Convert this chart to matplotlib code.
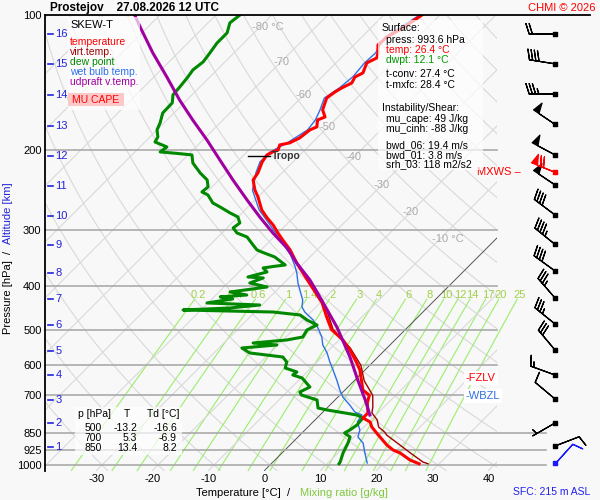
"""Skew-T log-p sounding chart, Prostejov 27.08.2026 12 UTC."""

import numpy as np
import matplotlib

matplotlib.use("Agg")
import matplotlib.pyplot as plt
from matplotlib import transforms
from matplotlib.patches import Rectangle

plt.rcParams["font.family"] = ["Liberation Sans", "DejaVu Sans"]

# ---------------------------------------------------------------- data
TEMP_P = [100, 106.8, 111.9, 116.6, 121.4, 124.6, 127.8, 134.5, 137.3, 141.6,
          145.2, 148.3, 152.9, 162.5, 168.5, 171.1, 177.3, 180.0, 187.6, 192.4,
          194.4, 199.4, 201.5, 204.6, 212.1, 224.4, 232.6, 244.8, 253.7, 271.2,
          282.5, 292.8, 305.1, 316.2, 332.7, 355.7, 374.3, 402.1, 436.5, 468.9,
          500, 527.4, 555.1, 593.4, 615, 681.3, 700, 728, 766, 786, 802.4,
          823.3, 850, 902.7, 926.1, 940.4, 974.7, 993.6]
TEMP_T = [-53.2, -54.3, -55.5, -55.7, -54.3, -53.6, -54.5, -53.4, -54.1, -53.6,
          -54.5, -55.0, -55.4, -54.0, -52.3, -53.1, -52.0, -52.7, -53.1, -54.0,
          -55.4, -54.8, -55.4, -55.9, -55.5, -54.3, -53.9, -51.8, -50.0, -47.0,
          -44.6, -42.3, -40.0, -37.9, -34.8, -31.3, -28.4, -24.3, -19.6, -16.3,
          -13.2, -9.3, -6.25, -2.7, -0.9, 3.2, 5.3, 6.3, 8.2, 8.2, 10.2,
          11.4, 13.4, 17.3, 19.3, 21.1, 24.1, 26.4]

VIRT_P = [400, 450, 500, 550, 600, 650, 700, 743, 766, 794, 823, 845, 858,
          893.5, 940, 985, 993.6]
VIRT_T = [-24.1, -17.8, -12.9, -6.5, -1.6, 1.8, 5.9, 8.0, 8.9, 11.1, 12.6, 14.6,
          15.5, 18.8, 22.9, 26.8, 28.0]

DEW_P = [100, 104.1, 109.6, 115.4, 121.4, 127.1, 132.4, 138.0, 144.5, 150.5,
         156.8, 165.1, 173.7, 180.0, 186.6, 191.5, 196.4, 201.5, 203, 204.6,
         213.2, 224.4, 232.6, 241.0, 247.3, 251.1, 261.6, 267.0, 275.4, 281.1,
         289.8, 297.3, 305.1, 311.4, 324.4, 332.8, 336.8, 344.9, 359.3, 362,
         364.9, 372.4, 382.1, 384, 394.0, 402.2, 412.6, 419.0, 423, 427.6,
         436.4, 441.0, 447.8, 452.4, 457.1, 464.1, 476.1, 488.5, 501.1, 519.4,
         527.4, 535.6, 541.1, 549.5, 563.7, 575.4, 590.3, 608.7, 621.3, 630.9,
         640.7, 670.9, 688.3, 698.9, 717.0, 747.0, 754.7, 774.2, 786.2, 814.9,
         836.0, 848.9, 866.5, 893.5, 940.4, 984.8, 993.6]
DEW_T = [-85.7, -86.1, -84.8, -84.8, -84.3, -83.9, -84.3, -83.9, -83.6, -83.4,
         -82.1, -82.0, -80.7, -80.0, -78.6, -78.2, -75.2, -75.5, -72.3, -69.3,
         -67.7, -64.6, -62.1, -60.7, -60.9, -59.3, -57.0, -55.0, -52.1, -50.0,
         -48.6, -48.9, -47.3, -44.8, -42.3, -40.7, -39.3, -36.3, -33.0, -34.8,
         -36.4, -35.0, -37.5, -34.6, -36.1, -32.3, -38.0, -34.5, -38.9, -36.3,
         -40.2, -30.4, -35.2, -43.2, -26.8, -21.4, -19.3, -16.6, -17.5, -17.0,
         -19.3, -24.8, -20.2, -25.9, -23.6, -17.0, -15.4, -14.6, -11.8, -12.0,
         -9.8, -6.8, -7.7, -6.9, -3.2, -1.6, 0.4, 6.6, 8.2, 8.4,
         8.0, 7.6, 9.3, 10.0, 10.9, 12.0, 12.1]

WETBULB_P = [100, 112, 121.4, 128, 137, 145, 153, 163, 171, 180, 192, 201.5,
             212, 224, 245, 271, 293, 316, 340, 362.6, 374.3, 394, 408.5, 430,
             445.5, 457.1, 476.1, 494, 519.4, 541.1, 563.7, 590.3, 615, 648,
             681.5, 706.5, 736.4, 762.6, 774.2, 802, 836, 866.5, 893.5, 940.4,
             989.8]
WETBULB_T = [-53.6, -55.9, -54.7, -54.9, -54.5, -54.9, -55.8, -54.4, -53.5,
             -53.1, -54.4, -55.8, -55.9, -54.7, -52.2, -47.5, -42.8, -38.4,
             -34.0, -30.9, -29.5, -27.5, -25.9, -23.6, -22.5, -21.1, -18.2,
             -16.1, -13.6, -12.0, -9.8, -7.7, -5.7, -3.2, -0.9, 0.9, 3.6, 5.7,
             7.5, 7.9, 9.8, 10.7, 12.7, 14.8, 17.0]

PARCEL_P = [100, 106.3, 121.4, 137.3, 154.5, 171.1, 189.5, 210.0, 232.6, 257.7,
            281.1, 305.1, 329.4, 355.7, 388.0, 423.2, 493.5, 575.4, 647.3,
            717.0, 774.2]
PARCEL_T = [-104.5, -101.4, -94.5, -87.7, -81.3, -75.4, -69.3, -63.4, -57.5,
            -51.4, -46.1, -40.9, -35.7, -31.3, -25.9, -21.1, -12.7, -5.0, 0.5,
            5.4, 8.9]

# wind profile (direction from, speed)
WIND_P = [110.2, 128.4, 149.8, 175, 204.6, 238.6, 278.2, 323.4, 370.5, 425.4,
          486.0, 555.1, 630.9, 713.3, 806.6, 907.4]
WIND_DIR = [270, 279, 270, 304, 298, 304, 307, 309, 306, 319, 309, 320, 290,
            310, 240, 69]
WIND_SPD = [20, 40, 35, 50, 50, 50, 40, 45, 40, 35, 35, 30, 15, 10, 3, 10]
MXWS_P, MXWS_DIR, MXWS_SPD = 223, 292, 70
SFC_WIND_P, SFC_WIND_DIR, SFC_WIND_SPD = 989.8, 42, 10

# altitude scale [km] and its pressure
KM_LEVELS = [1, 2, 3, 4, 5, 6, 7, 8, 9, 10, 11, 12, 13, 14, 15, 16]
KM_PRESSURE = [912.0, 806.6, 717.0, 630.9, 558.0, 488.5, 427.6, 374.3, 324.4,
               279.6, 239.8, 205.7, 176.4, 150.5, 128.4, 110.2]

TROPO_P = 206
FZLV_P = 641
WBZL_P = 703

PRESSURE_LEVELS = [100, 200, 300, 400, 500, 600, 700, 850, 925, 1000]
TEMP_TICKS = [-30, -20, -10, 0, 10, 20, 30, 40]
MIX_RATIOS = [0.2, 0.4, 0.6, 1, 1.4, 2, 3, 4, 6, 8, 10, 12, 14, 17, 20, 25]

TABLE_P = [500, 700, 850]
TABLE_T = [-13.2, 5.3, 13.4]
TABLE_TD = [-16.6, -6.9, 8.2]

SURFACE_INFO = [("press: 993.6 hPa", "black"), ("temp: 26.4 \u00b0C", "#ff0000"),
                ("dwpt: 12.1 \u00b0C", "#009900")]
CONV_INFO = ["t-conv: 27.4 \u00b0C", "t-mxfc: 28.4 \u00b0C"]
INSTAB_INFO = ["mu_cape: 49 J/kg", "mu_cinh: -88 J/kg"]
SHEAR_INFO = ["bwd_06: 19.4 m/s", "bwd_01: 3.8 m/s", "srh_03: 118 m2/s2"]

# ---------------------------------------------------------------- geometry
SKEW = 34.89
P_BOTTOM, P_TOP = 1028.5, 100.0
X_LEFT, X_RIGHT = -40.18, 40.54
BG = "#f8f8f8"
RED, DARKRED, GREEN, BLUE, PURPLE = "#ff0000", "#a00000", "#008800", "#2f6fe8", "#a000a0"
KM_BLUE = "#2222dd"


def skew_x(t, p):
    return np.asarray(t, dtype=float) + SKEW * np.log(1000.0 / np.asarray(p, dtype=float))


def mixing_td(w, p):
    e = w * p / (622.0 + w)
    a = np.log(e / 6.112)
    return 243.5 * a / (17.67 - a)


fig = plt.figure(figsize=(6, 5), dpi=100, facecolor=BG)
ax_rect = [45 / 600, 29.5 / 500, 452 / 600, 455.5 / 500]
ax = fig.add_axes(ax_rect, facecolor=BG)
ax.set_yscale("log")
ax.set_ylim(P_BOTTOM, P_TOP)
ax.set_xlim(X_LEFT, X_RIGHT)
ax.yaxis.set_minor_locator(matplotlib.ticker.NullLocator())
ax.set_yticks(PRESSURE_LEVELS)
ax.set_yticklabels([str(p) for p in PRESSURE_LEVELS])
ax.set_xticks(skew_x(TEMP_TICKS, [P_BOTTOM] * len(TEMP_TICKS)))
ax.set_xticklabels([str(t) for t in TEMP_TICKS])
ax.tick_params(length=0, labelsize=8, pad=2.5)
for side in ("top", "right", "bottom"):
    ax.spines[side].set_visible(False)
ax.spines["left"].set_linewidth(1.3)

# background: dry adiabats, isotherms, mixing ratio lines
pp = np.geomspace(P_BOTTOM, P_TOP, 80)
for theta in range(-30, 260, 10):
    t = (theta + 273.15) * (pp / 1000.0) ** 0.2857 - 273.15
    ax.plot(skew_x(t, pp), pp, color="#d9d9d9", lw=0.8, zorder=1)
for t in range(-140, 50, 10):
    col, lw = ("#555555", 0.7) if t == 0 else ("#d9d9d9", 0.8)
    ax.plot(skew_x([t, t], [P_BOTTOM, P_TOP]), [P_BOTTOM, P_TOP], color=col, lw=lw, zorder=1.5)

pm = np.geomspace(P_BOTTOM, 428, 40)
for w in MIX_RATIOS:
    ax.plot(skew_x(mixing_td(w, pm), pm), pm, color="#9aee6a", lw=0.8, zorder=1.2,
            clip_on=False)
    ax.text(skew_x(mixing_td(w, 419), 419), 419, f"{w:g}", color="#a0d048",
            fontsize=8, ha="center", va="center", zorder=1.3)

iso_labels = [(-80, 106.3), (-70, 127.1), (-60, 150.5), (-50, 177.3),
              (-40, 207.0), (-30, 238.6), (-20, 274.0), (-10, 314.6)]
for t, p in iso_labels:
    if t in (-80, -10):
        tr = transforms.offset_copy(ax.transData, fig=fig, x=-7.5, y=0, units="dots")
        ax.text(skew_x(t, p), p, f"{t} \u00b0C", transform=tr, color="#aaaaaa",
                fontsize=8, ha="left", va="center", zorder=1.6)
    else:
        ax.text(skew_x(t, p), p, f"{t}", color="#aaaaaa", fontsize=8,
                ha="center", va="center", zorder=1.6)

for p in PRESSURE_LEVELS[1:]:
    x_end = (546 - 270) / 5.6 if p >= 850 else X_RIGHT
    ax.plot([X_LEFT, x_end], [p, p], color="#aaaaaa", lw=1.2, zorder=2, clip_on=False)

# profiles
ax.plot(skew_x(WETBULB_T, WETBULB_P), WETBULB_P, color=BLUE, lw=1.0, zorder=3)
ax.plot(skew_x(VIRT_T, VIRT_P), VIRT_P, color=DARKRED, lw=1.0, zorder=4)
ax.plot(skew_x(DEW_T, DEW_P), DEW_P, color=GREEN, lw=2.2, zorder=4)
ax.plot(skew_x(TEMP_T, TEMP_P), TEMP_P, color=RED, lw=2.2, zorder=5)
ax.plot(skew_x(PARCEL_T, PARCEL_P), PARCEL_P, color=PURPLE, lw=2.2, zorder=6)

# altitude scale
km_tr = transforms.blended_transform_factory(ax.transAxes, ax.transData)
for km, p in zip(KM_LEVELS, KM_PRESSURE):
    ax.plot([0.0066, 0.0177], [p, p], color=KM_BLUE, lw=1.2, transform=km_tr, zorder=7)
    ax.text(0.023, p, str(km), color=KM_BLUE, fontsize=8, ha="left", va="center",
            transform=km_tr, zorder=7)

# tropopause and levels
ax.plot([-4.0, 0.0], [TROPO_P, TROPO_P], color="black", lw=1.0, zorder=7)
ax.text(0.3, TROPO_P, "Tropo", fontsize=7.5, fontweight="bold", color="#333333",
        ha="left", va="center", zorder=7)
lvl_box = dict(facecolor="white", edgecolor="none", pad=1.2)
ax.text(35.0, FZLV_P, "-FZLV", color=RED, fontsize=8, ha="left", va="center",
        bbox=lvl_box, zorder=8)
ax.text(35.0, WBZL_P, "-WBZL", color=BLUE, fontsize=8, ha="left", va="center",
        bbox=lvl_box, zorder=8)

# wind barbs
ax_w = fig.add_axes([500 / 600, ax_rect[1], 100 / 600, ax_rect[3]])
ax_w.set_yscale("log")
ax_w.set_ylim(P_BOTTOM, P_TOP)
ax_w.set_xlim(0, 100)
ax_w.axis("off")


def wind_uv(direction, speed):
    rad = np.deg2rad(np.asarray(direction, dtype=float))
    speed = np.asarray(speed, dtype=float)
    return -speed * np.sin(rad), -speed * np.cos(rad)


barb_kw = dict(length=6.1, linewidth=0.9)
u, v = wind_uv(WIND_DIR, WIND_SPD)
ax_w.barbs(np.full(len(WIND_P), 55.0), WIND_P, u, v, color="black", **barb_kw)
ax_w.scatter(np.full(len(WIND_P), 55.0), WIND_P, marker="s", s=5, color="black", zorder=3)
u, v = wind_uv([MXWS_DIR], [MXWS_SPD])
ax_w.barbs([55.0], [MXWS_P], u, v, color=RED, **barb_kw)
ax_w.scatter([55.0], [MXWS_P], marker="s", s=5, color=RED, zorder=3)
u, v = wind_uv([SFC_WIND_DIR], [SFC_WIND_SPD])
ax_w.barbs([55.0], [SFC_WIND_P], u, v, color="#1a1aff", **barb_kw)
ax_w.scatter([55.0], [SFC_WIND_P], marker="s", s=5, color="#1a1aff", zorder=3)
ax_w.text(21, MXWS_P, "MXWS \u2013", color=RED, fontsize=8, ha="right", va="center",
          clip_on=False)

# ---------------------------------------------------------------- overlay (pixel coords)
ov = fig.add_axes([0, 0, 1, 1])
ov.set_xlim(0, 600)
ov.set_ylim(500, 0)
ov.axis("off")
ov.set_zorder(5)

ov.plot([45, 590], [15, 15], color="black", lw=1.3)
ov.text(50, 8, "Prostejov    27.08.2026 12 UTC", fontsize=8.5, fontweight="bold",
        ha="left", va="center")
ov.text(596, 8, "CHMI \u00a9 2026", fontsize=8, color=RED, ha="right", va="center")
ov.text(590, 492, "SFC: 215 m ASL", fontsize=7.5, color="#2020ee", ha="right", va="center")

ov.text(8, 297, "Pressure [hPa]", rotation=90, fontsize=8, ha="center", va="center")
ov.text(8, 252, "/", rotation=90, fontsize=8, ha="center", va="center")
ov.text(8, 213, "Altitude [km]", rotation=90, fontsize=8, color=KM_BLUE,
        ha="center", va="center")
ov.text(238, 493, "Temperature [\u00b0C]", fontsize=8, ha="center", va="center")
ov.text(289, 493, "/", fontsize=8, ha="center", va="center")
ov.text(344, 493, "Mixing ratio [g/kg]", fontsize=8, color="#80c840", ha="center",
        va="center")

# legend box
ov.add_patch(Rectangle((68, 17), 72, 93, facecolor="white", edgecolor="none", alpha=0.7))
ov.text(70, 25, "SKEW-T", fontsize=8, ha="left", va="center")
legend_items = [("temperature", RED), ("virt.temp.", DARKRED), ("dew point", GREEN),
                ("wet bulb temp.", BLUE), ("udpraft v.temp.", PURPLE)]
for i, (label, col) in enumerate(legend_items):
    ov.text(70, 42 + 10 * i, label, fontsize=7.5, color=col, ha="left", va="center")
ov.add_patch(Rectangle((68, 93), 56, 13, facecolor="#ffc8c8", edgecolor="none"))
ov.text(96, 100, "MU CAPE", fontsize=7.5, color=RED, ha="center", va="center")

# info box
ov.add_patch(Rectangle((378, 20), 105, 150, facecolor="white", edgecolor="none", alpha=0.7))
ov.text(382, 28, "Surface:", fontsize=7.5, ha="left", va="center")
for i, (label, col) in enumerate(SURFACE_INFO):
    ov.text(386, 40 + 10 * i, label, fontsize=7.5, color=col, ha="left", va="center")
for i, label in enumerate(CONV_INFO):
    ov.text(386, 74 + 10.5 * i, label, fontsize=7.5, ha="left", va="center")
ov.text(382, 108, "Instability/Shear:", fontsize=7.5, ha="left", va="center")
for i, label in enumerate(INSTAB_INFO):
    ov.text(386, 119 + 10.5 * i, label, fontsize=7.5, ha="left", va="center")
for i, label in enumerate(SHEAR_INFO):
    ov.text(386, 145 + 9.8 * i, label, fontsize=7.5, ha="left", va="center")

# level table
ov.add_patch(Rectangle((75, 407), 107, 48, facecolor="white", edgecolor="none", alpha=0.7))
ov.text(78, 414, "p [hPa]", fontsize=7.5, ha="left", va="center")
ov.text(127, 414, "T", fontsize=7.5, ha="center", va="center")
ov.text(147, 414, "Td [\u00b0C]", fontsize=7.5, ha="left", va="center")
for i, (p, t, td) in enumerate(zip(TABLE_P, TABLE_T, TABLE_TD)):
    y = 428 + 10 * i
    ov.text(102, y, str(p), fontsize=7.5, ha="right", va="center")
    ov.text(137, y, f"{t:.1f}", fontsize=7.5, ha="right", va="center")
    ov.text(177, y, f"{td:.1f}", fontsize=7.5, ha="right", va="center")

fig.savefig("out.png", dpi=100, facecolor=BG)
plt.close(fig)
